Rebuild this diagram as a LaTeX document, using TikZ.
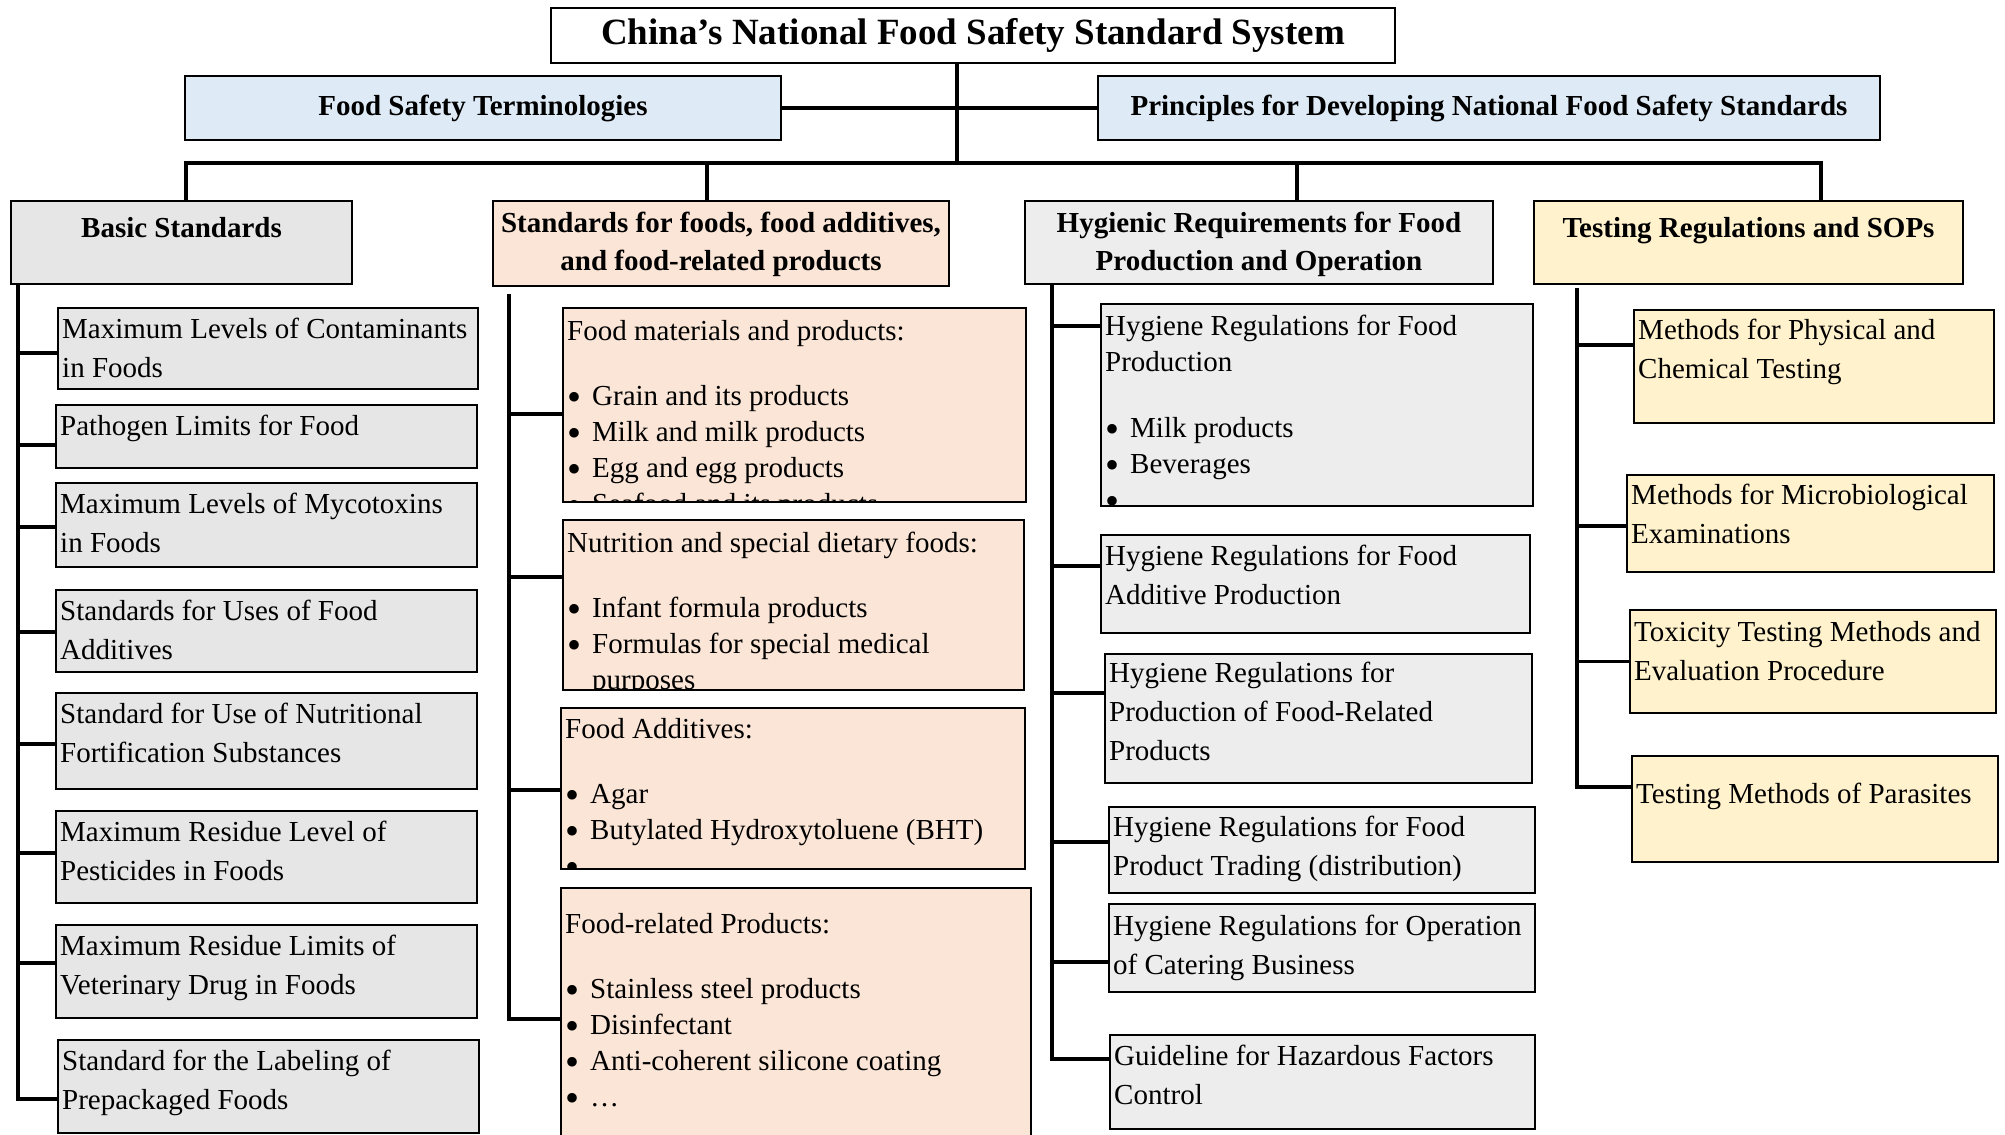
\documentclass[tikz,border=0pt]{standalone}
\usepackage{fontspec}
\setmainfont{Liberation Serif}
\usepackage{tikz}
\definecolor{TermBlue}{HTML}{DEEBF7}
\definecolor{BasicGrey}{HTML}{E6E6E6}
\definecolor{FoodPeach}{HTML}{FBE5D6}
\definecolor{HygGrey}{HTML}{EDEDED}
\definecolor{TestYellow}{HTML}{FFF2CC}
\newcommand{\leaffont}{\fontsize{29}{39}\selectfont}
\newcommand{\listfont}{\fontsize{29}{36}\selectfont}
\newcommand{\headfont}{\fontsize{29}{38}\selectfont\bfseries}
\newcommand{\bul}{\makebox[25pt][l]{\smash{\raisebox{-5pt}{\fontsize{40}{36}\selectfont\textbullet}}}}

\begin{document}
\begin{tikzpicture}[x=1pt, y=-1pt,
	box/.style={draw, line width=2pt, anchor=north west, inner sep=0pt},
	link/.style={draw, line width=3.5pt},
	txt/.style={anchor=north west, inner xsep=5pt, inner ysep=0pt, align=left, font=\leaffont},
	lst/.style={txt, font=\listfont},
	hd/.style={anchor=north, inner sep=0pt, align=center, font=\headfont}]

	\useasboundingbox (0,0) rectangle (2005,1135);

	% Top
	\node[box, fill=white, minimum width=844pt, minimum height=55pt, font=\fontsize{37}{44}\selectfont\bfseries] (root) at (550,7) {China’s National Food Safety Standard System};
	\node[box, fill=TermBlue, minimum width=596pt, minimum height=64pt, font=\headfont] (terms) at (184,75) {Food Safety Terminologies};
	\node[box, fill=TermBlue, minimum width=782pt, minimum height=64pt, font=\headfont] (princ) at (1097,75) {Principles for Developing National Food Safety Standards};

	% Categories
	\node[box, fill=BasicGrey, minimum width=341pt, minimum height=83pt] (B) at (10,200) {};
	\node[box, fill=FoodPeach, minimum width=456pt, minimum height=85pt] (F) at (492,200) {};
	\node[box, fill=HygGrey, minimum width=468pt, minimum height=83pt] (H) at (1024,200) {};
	\node[box, fill=TestYellow, minimum width=429pt, minimum height=83pt] (T) at (1533,200) {};
	\node[hd] (Bt) at ([yshift=-10.4pt]B.north) {\strut Basic Standards};
	\node[hd] (Ft) at ([yshift=-5.4pt]F.north) {\strut Standards for foods, food additives,\\and food-related products};
	\node[hd] (Ht) at ([yshift=-5.4pt]H.north) {\strut Hygienic Requirements for Food\\Production and Operation};
	\node[hd] (Tt) at ([yshift=-10.4pt]T.north) {\strut Testing Regulations and SOPs};

	% Basic standards
	\node[box, fill=BasicGrey, minimum width=420pt, minimum height=81pt] (B1) at (57,307) {};
	\node[box, fill=BasicGrey, minimum width=421pt, minimum height=63pt] (B2) at (55,404) {};
	\node[box, fill=BasicGrey, minimum width=421pt, minimum height=84pt] (B3) at (55,482) {};
	\node[box, fill=BasicGrey, minimum width=421pt, minimum height=82pt] (B4) at (55,589) {};
	\node[box, fill=BasicGrey, minimum width=421pt, minimum height=96pt] (B5) at (55,692) {};
	\node[box, fill=BasicGrey, minimum width=421pt, minimum height=92pt] (B6) at (55,810) {};
	\node[box, fill=BasicGrey, minimum width=421pt, minimum height=93pt] (B7) at (55,924) {};
	\node[box, fill=BasicGrey, minimum width=421pt, minimum height=93pt] (B8) at (57,1039) {};
	\node[txt] (B1t) at ([yshift=-3.7pt]B1.north west) {\strut Maximum Levels of Contaminants\\in Foods};
	\node[txt] (B2t) at ([yshift=-3.7pt]B2.north west) {\strut Pathogen Limits for Food};
	\node[txt] (B3t) at ([yshift=-3.7pt]B3.north west) {\strut Maximum Levels of Mycotoxins\\in Foods};
	\node[txt] (B4t) at ([yshift=-3.7pt]B4.north west) {\strut Standards for Uses of Food\\Additives};
	\node[txt] (B5t) at ([yshift=-3.7pt]B5.north west) {\strut Standard for Use of Nutritional\\Fortification Substances};
	\node[txt] (B6t) at ([yshift=-3.7pt]B6.north west) {\strut Maximum Residue Level of\\Pesticides in Foods};
	\node[txt] (B7t) at ([yshift=-3.7pt]B7.north west) {\strut Maximum Residue Limits of\\Veterinary Drug in Foods};
	\node[txt] (B8t) at ([yshift=-3.7pt]B8.north west) {\strut Standard for the Labeling of\\Prepackaged Foods};

	% Foods, additives, related products
	\node[box, fill=FoodPeach, minimum width=463pt, minimum height=194pt] (F1) at (562,307) {};
	\node[box, fill=FoodPeach, minimum width=461pt, minimum height=170pt] (F2) at (562,519) {};
	\node[box, fill=FoodPeach, minimum width=464pt, minimum height=161pt] (F3) at (560,707) {};
	\node[box, fill=FoodPeach, minimum width=470pt, minimum height=260pt] (F4) at (560,887) {};
	\begin{scope}
		\clip ([xshift=1pt, yshift=-1pt]F1.north west) rectangle ([xshift=-1pt, yshift=1pt]F1.south east);
		\node[lst] (F1t) at ([yshift=-7.8pt]F1.north west) {\strut Food materials and products:\\[29pt]\bul Grain and its products\\\bul Milk and milk products\\\bul Egg and egg products\\\bul Seafood and its products};
	\end{scope}
	\begin{scope}
		\clip ([xshift=1pt, yshift=-1pt]F2.north west) rectangle ([xshift=-1pt, yshift=1pt]F2.south east);
		\node[lst] (F2t) at ([yshift=-7.8pt]F2.north west) {\strut Nutrition and special dietary foods:\\[29pt]\bul Infant formula products\\\bul Formulas for special medical\\\hspace*{25pt}purposes};
	\end{scope}
	\begin{scope}
		\clip ([xshift=1pt, yshift=-1pt]F3.north west) rectangle ([xshift=-1pt, yshift=1pt]F3.south east);
		\node[lst] (F3t) at ([yshift=-5.8pt]F3.north west) {\strut Food Additives:\\[29pt]\bul Agar\\\bul Butylated Hydroxytoluene (BHT)\\\bul …};
	\end{scope}
	\node[lst] (F4t) at ([yshift=-20.8pt]F4.north west) {\strut Food-related Products:\\[29pt]\bul Stainless steel products\\\bul Disinfectant\\\bul Anti-coherent silicone coating\\\bul …};

	% Hygiene
	\node[box, fill=HygGrey, minimum width=432pt, minimum height=202pt] (H1) at (1100,303) {};
	\node[box, fill=HygGrey, minimum width=429pt, minimum height=98pt] (H2) at (1100,534) {};
	\node[box, fill=HygGrey, minimum width=427pt, minimum height=129pt] (H3) at (1104,653) {};
	\node[box, fill=HygGrey, minimum width=426pt, minimum height=86pt] (H4) at (1108,806) {};
	\node[box, fill=HygGrey, minimum width=426pt, minimum height=88pt] (H5) at (1108,903) {};
	\node[box, fill=HygGrey, minimum width=425pt, minimum height=94pt] (H6) at (1109,1034) {};
	\begin{scope}
		\clip ([xshift=1pt, yshift=-1pt]H1.north west) rectangle ([xshift=-1pt, yshift=1pt]H1.south east);
		\node[lst] (H1t) at ([yshift=-6.8pt]H1.north west) {\strut Hygiene Regulations for Food\\Production\\[30pt]\bul Milk products\\\bul Beverages\\\bul …};
	\end{scope}
	\node[txt] (H2t) at ([yshift=-3.7pt]H2.north west) {\strut Hygiene Regulations for Food\\Additive Production};
	\node[txt] (H3t) at ([yshift=-2pt]H3.north west) {\strut Hygiene Regulations for\\Production of Food-Related\\Products};
	\node[txt] (H4t) at ([yshift=-2.7pt]H4.north west) {\strut Hygiene Regulations for Food\\Product Trading (distribution)};
	\node[txt] (H5t) at ([yshift=-4.7pt]H5.north west) {\strut Hygiene Regulations for Operation\\of Catering Business};
	\node[txt] (H6t) at ([yshift=-3.7pt]H6.north west) {\strut Guideline for Hazardous Factors\\Control};

	% Testing
	\node[box, fill=TestYellow, minimum width=360pt, minimum height=113pt] (T1) at (1633,309) {};
	\node[box, fill=TestYellow, minimum width=367pt, minimum height=97pt] (T2) at (1626,474) {};
	\node[box, fill=TestYellow, minimum width=366pt, minimum height=103pt] (T3) at (1629,609) {};
	\node[box, fill=TestYellow, minimum width=366pt, minimum height=106pt] (T4) at (1631,755) {};
	\node[txt] (T1t) at ([yshift=-2.7pt]T1.north west) {\strut Methods for Physical and\\Chemical Testing};
	\node[txt] (T2t) at ([yshift=-2.7pt]T2.north west) {\strut Methods for Microbiological\\Examinations};
	\node[txt] (T3t) at ([yshift=-4.7pt]T3.north west) {\strut Toxicity Testing Methods and\\Evaluation Procedure};
	\node[txt] (T4t) at ([yshift=-20.7pt]T4.north west) {\strut Testing Methods of Parasites};

	% Trunk
	\coordinate (hub) at (957,163);
	\path[link] (root.south -| hub) -- (hub);
	\path[link] (terms.east) -- (princ.west);
	\path[link] ([xshift=4.5pt]B.north) |- (hub);
	\path[link] ([xshift=-14pt]F.north) |- (hub);
	\path[link] ([xshift=38pt]H.north) |- (hub);
	\path[link] ([xshift=72.5pt]T.north) |- (hub);

	% Branches
	\coordinate (busB) at ([xshift=8pt]B.south west);
	\coordinate (busF) at ([xshift=17pt, yshift=-7pt]F.south west);
	\coordinate (busH) at ([xshift=28pt]H.south west);
	\coordinate (busT) at ([xshift=44pt, yshift=-3pt]T.south west);
	\foreach \n/\d in {B1/-4.5, B2/-8.5, B3/-2, B4/-1, B5/-3, B6/4, B7/8.5, B8/-12.5}
		\path[link] ([yshift=\d pt]\n.west) -| (busB);
	\foreach \n/\d in {F1/-9, F2/28, F3/-1.5, F4/-1}
		\path[link] ([yshift=\d pt]\n.west) -| (busF);
	\foreach \n/\d in {H1/79, H2/18, H3/25.5, H4/8, H5/-14, H6/23}
		\path[link] ([yshift=\d pt]\n.west) -| (busH);
	\foreach \n/\d in {T1/21.5, T2/-2.5, T3/0, T4/22}
		\path[link] ([yshift=\d pt]\n.west) -| (busT);
\end{tikzpicture}
\end{document}
